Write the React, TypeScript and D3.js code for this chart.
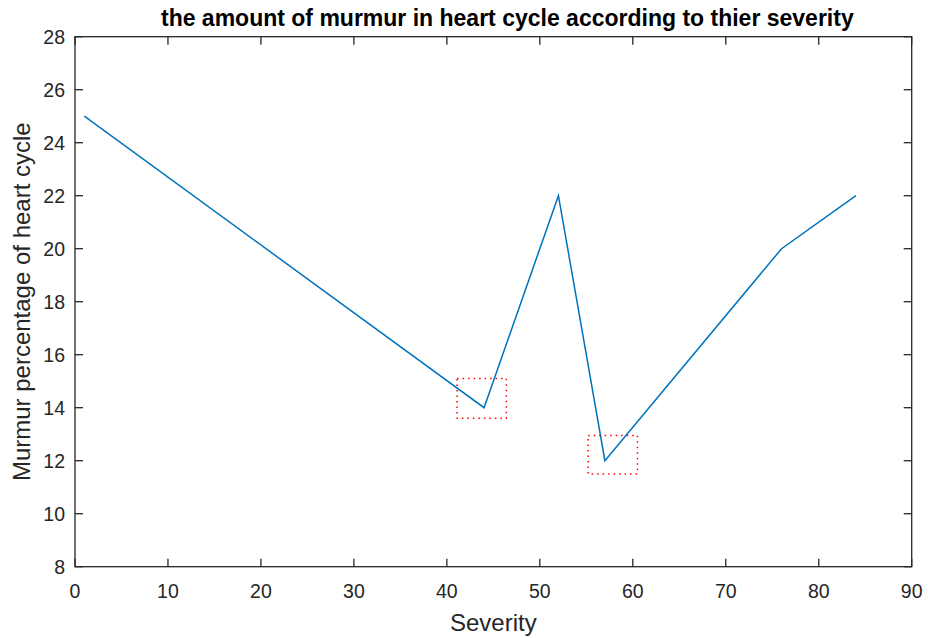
import React from "react";
import * as d3 from "d3";

const severity = [1, 44, 52, 57, 76, 84];
const murmurPct = [25, 14, 22, 12, 20, 22];
const xTicks = [0, 10, 20, 30, 40, 50, 60, 70, 80, 90];
const yTicks = [8, 10, 12, 14, 16, 18, 20, 22, 24, 26, 28];
// highlight boxes [x0, x1, y0, y1] in data units
const boxX0 = [41.1, 55.2];
const boxX1 = [46.4, 60.5];
const boxY0 = [13.6, 11.5];
const boxY1 = [15.1, 12.95];

const titleText = "the amount of murmur in heart cycle according to thier severity";
const xLabel = "Severity";
const yLabel = "Murmur percentage of heart cycle";

export default function App() {
  const W = 928, H = 638;
  const left = 75, right = 911.7, top = 36.7, bottom = 566.7;
  const x = d3.scaleLinear().domain([0, 90]).range([left, right]);
  const y = d3.scaleLinear().domain([8, 28]).range([bottom, top]);
  const line = d3.line<number>().x((_, i) => x(severity[i])).y((d) => y(d));
  const axisColor = "#262626";
  const font = "Liberation Sans, Arial, Helvetica, sans-serif";
  const tl = 8;
  return (
    <svg width={W} height={H} style={{ position: "absolute", left: 0, top: 0, background: "#fff" }}>
      <rect x={0} y={0} width={W} height={H} fill="#fff" />
      <path d={line(murmurPct) || ""} fill="none" stroke="#0072BD" strokeWidth={1.5} />
      {boxX0.map((b, i) => (
        <rect
          key={i}
          x={x(b)}
          y={y(boxY1[i])}
          width={x(boxX1[i]) - x(b)}
          height={y(boxY0[i]) - y(boxY1[i])}
          fill="none"
          stroke="#ff0000"
          strokeWidth={1.5}
          strokeDasharray="1.5,4"
        />
      ))}
      <g stroke={axisColor} strokeWidth={1.3} fill="none">
        <rect x={left} y={top} width={right - left} height={bottom - top} />
        {xTicks.map((t) => (
          <g key={"x" + t}>
            <line x1={x(t)} x2={x(t)} y1={bottom} y2={bottom - tl} />
            <line x1={x(t)} x2={x(t)} y1={top} y2={top + tl} />
          </g>
        ))}
        {yTicks.map((t) => (
          <g key={"y" + t}>
            <line x1={left} x2={left + tl} y1={y(t)} y2={y(t)} />
            <line x1={right} x2={right - tl} y1={y(t)} y2={y(t)} />
          </g>
        ))}
      </g>
      <g fill={axisColor} fontFamily={font} fontSize={19.5}>
        {xTicks.map((t) => (
          <text key={"xl" + t} x={x(t)} y={598} textAnchor="middle">{t}</text>
        ))}
        {yTicks.map((t) => (
          <text key={"yl" + t} x={65} y={y(t) + 7} textAnchor="end">{t}</text>
        ))}
      </g>
      <text x={(left + right) / 2 + 14} y={26} textAnchor="middle" fontFamily={font} fontWeight="bold" fontSize={23} fill="#000">
        {titleText}
      </text>
      <text x={(left + right) / 2} y={631} textAnchor="middle" fontFamily={font} fontSize={24} fill={axisColor}>
        {xLabel}
      </text>
      <text
        transform={`translate(30, ${(top + bottom) / 2}) rotate(-90)`}
        textAnchor="middle"
        fontFamily={font}
        fontSize={24}
        fill={axisColor}
      >
        {yLabel}
      </text>
    </svg>
  );
}
